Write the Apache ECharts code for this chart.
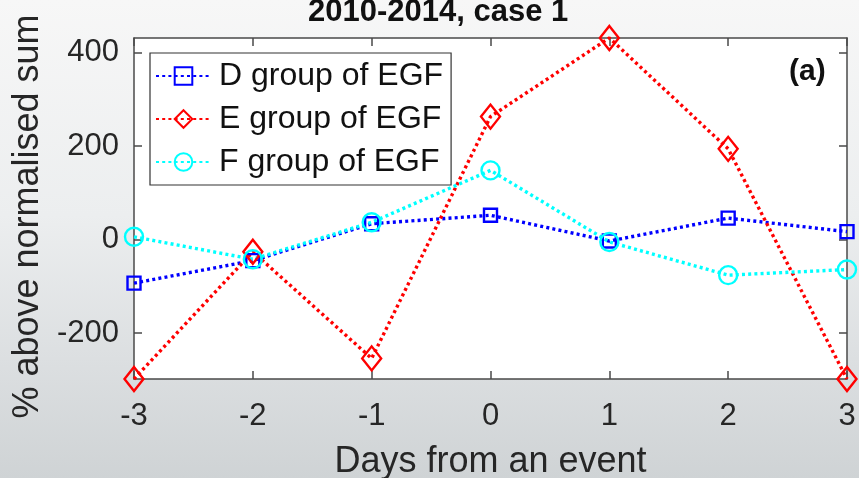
<!DOCTYPE html>
<html>
<head>
<meta charset="utf-8">
<script src="https://cdn.jsdelivr.net/npm/echarts@6/dist/echarts.min.js"></script>
<style>
  html, body { margin: 0; padding: 0; }
  body {
    width: 859px; height: 478px; overflow: hidden;
    background: linear-gradient(180deg, #f7f7f7 0%, #eceeef 45%, #dcdfe1 75%, #cfd3d5 100%);
  }
  #chart { width: 859px; height: 478px; }
</style>
</head>
<body>
<div id="chart"></div>
<script>
// Days relative to the event
const days = [-3, -2, -1, 0, 1, 2, 3];
// Percentage above the normalised sum, per EGF group
const groupD = [-93, -45, 34, 52, -3, 46, 17];
const groupE = [-298, -26, -254, 263, 431, 194, -298];
const groupF = [6, -42, 37, 148, -5, -76, -64];
// Axis tick values
const xTicks = [-3, -2, -1, 0, 1, 2, 3];
const yTicks = [-200, 0, 200, 400];

const seriesNames = ['D group of EGF', 'E group of EGF', 'F group of EGF'];
const FONT = '"Liberation Sans", Arial, Helvetica, sans-serif';
const AXIS_COLOR = '#4a4a4a';

const allValues = groupD.concat(groupE, groupF);
const yMin = Math.min.apply(null, allValues);
const yMax = Math.max.apply(null, allValues);

function pairs(values) {
  return days.map((d, i) => [d, values[i]]);
}

function lineSeries(name, values, color, symbol, size) {
  return {
    name: name,
    type: 'line',
    data: pairs(values),
    symbol: symbol,
    symbolSize: size,
    clip: false,
    z: 3,
    lineStyle: { color: color, width: 3.4, type: [3, 3.2] },
    itemStyle: { color: 'rgba(255,255,255,0)', borderColor: color, borderWidth: 2.4 },
    emphasis: { disabled: true }
  };
}

const chart = echarts.init(document.getElementById('chart'), null, { renderer: 'canvas' });

// Ticks point into the plot box (negative length on the outer side)
function tickStyle() {
  return { show: true, inside: false, length: -8, lineStyle: { color: AXIS_COLOR, width: 1.5 } };
}
function axisLineStyle() {
  return { show: true, onZero: false, lineStyle: { color: AXIS_COLOR, width: 1.5 } };
}

function xAxisOf(position, extra) {
  return Object.assign({
    type: 'value', position: position,
    min: xTicks[0], max: xTicks[xTicks.length - 1], interval: 1,
    splitLine: { show: false },
    axisLine: axisLineStyle(),
    axisTick: tickStyle(),
    axisLabel: { show: false }
  }, extra || {});
}
function yAxisOf(position, extra) {
  return Object.assign({
    type: 'value', position: position,
    min: yMin, max: yMax,
    splitLine: { show: false },
    axisLine: axisLineStyle(),
    axisTick: Object.assign(tickStyle(), { customValues: yTicks }),
    axisLabel: { show: false }
  }, extra || {});
}

chart.setOption({
  animation: false,
  backgroundColor: 'transparent',
  textStyle: { fontFamily: FONT },
  grid: {
    left: 134, right: 12, top: 38, bottom: 99,
    outerBoundsMode: 'none',
    containLabel: false,
    show: true, backgroundColor: '#ffffff', borderWidth: 0
  },
  xAxis: [
    xAxisOf('bottom', {
      name: 'Days from an event',
      nameLocation: 'middle',
      nameGap: 65,
      nameTextStyle: { fontSize: 36, color: '#262626', fontFamily: FONT },
      axisLabel: { show: true, fontSize: 31, color: '#262626', margin: 22, fontFamily: FONT,
        formatter: v => String(v) }
    }),
    xAxisOf('top')
  ],
  yAxis: [
    yAxisOf('left', {
      name: '% above normalised sum',
      nameLocation: 'middle',
      nameGap: 88,
      nameTextStyle: { fontSize: 36, color: '#262626', fontFamily: FONT, padding: [0, 16, 0, 0] },
      axisLabel: { show: true, fontSize: 31, color: '#262626', margin: 15, fontFamily: FONT,
        padding: [12, 0, 0, 0], customValues: yTicks, formatter: v => String(v) }
    }),
    yAxisOf('right')
  ],
  legend: {
    orient: 'vertical',
    left: 150, top: 53,
    padding: [5, 8, 5, 5],
    itemGap: 7,
    itemWidth: 55, itemHeight: 22,
    backgroundColor: '#ffffff',
    borderColor: '#333333', borderWidth: 1.2, borderRadius: 0,
    selectedMode: false,
    data: seriesNames,
    textStyle: { fontSize: 32, color: '#111111', fontFamily: FONT, lineHeight: 36, padding: [0, 0, 0, 3] }
  },
  graphic: [
    {
      type: 'text', left: 308, top: -3,
      style: { text: '2010-2014, case 1', fill: '#111111', font: 'bold 31px ' + FONT }
    },
    {
      type: 'text', left: 789, top: 57,
      style: { text: '(a)', fill: '#111111', font: 'bold 30px ' + FONT }
    }
  ],
  series: [
    lineSeries(seriesNames[0], groupD, '#0000ff', 'rect', 13),
    lineSeries(seriesNames[1], groupE, '#ff0000', 'diamond', [19, 24]),
    lineSeries(seriesNames[2], groupF, '#00ffff', 'circle', 18)
  ]
});
</script>
</body>
</html>
